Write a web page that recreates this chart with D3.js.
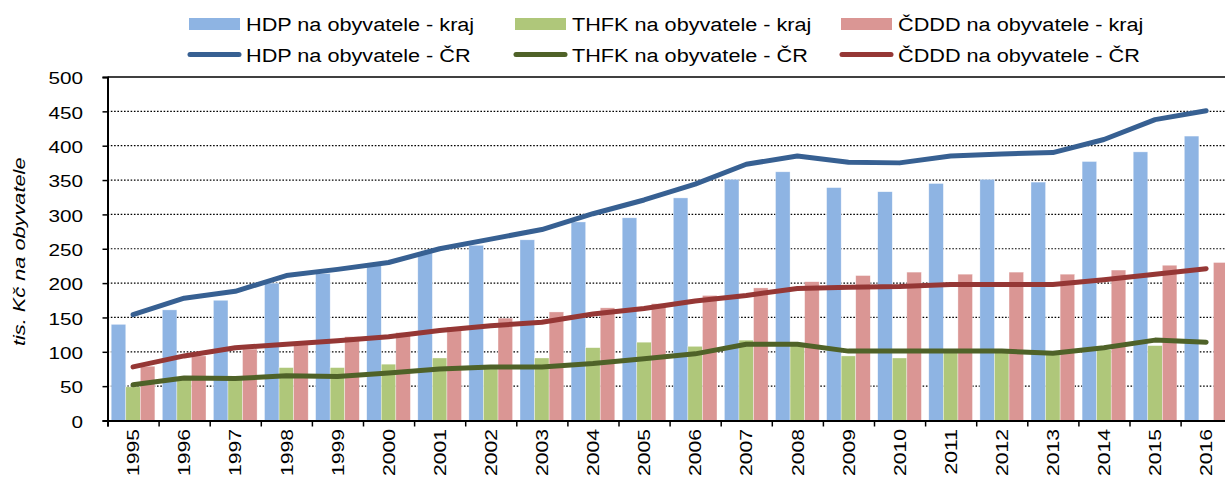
<!DOCTYPE html>
<html><head><meta charset="utf-8">
<script src="https://cdn.jsdelivr.net/npm/d3@7"></script>
<style>
body{margin:0;background:#fff;}
svg{display:block;font-family:Arial,"Liberation Sans",sans-serif;}
</style></head><body>
<svg id="c" width="1225" height="482"></svg>
<script>
const years = ["1995","1996","1997","1998","1999","2000","2001","2002","2003","2004","2005","2006","2007","2008","2009","2010","2011","2012","2013","2014","2015","2016"];
const hdpKraj = [140,161,175,200,214,227,244,255,263,289,295,324,351,362,339,333,345,351,347,377,391,414];
const thfkKraj = [49,62,60,77,77,82,91,78,91,106,114,108,117,110,94,91,100,101,97,103,109,null];
const cdddKraj = [79,94,104,110,122,128,136,149,158,164,170,182,193,202,211,216,213,216,213,219,226,230];
const hdpCR = [154,178,188,211,220,230,250,264,278,301,321,344,373,385,376,375,385,388,390,409,438,451];
const thfkCR = [52,62,61,65,64,69,75,78,78,83,90,97,111,111,101,101,101,101,98,106,117,114];
const cdddCR = [78,94,106,111,116,122,131,138,143,155,163,174,182,192,194,195,198,198,198,205,213,221];
const yTicks = [0,50,100,150,200,250,300,350,400,450,500];
const legendLabels = ["HDP na obyvatele - kraj","THFK na obyvatele - kraj","ČDDD na obyvatele - kraj","HDP na obyvatele - ČR","THFK na obyvatele - ČR","ČDDD na obyvatele - ČR"];
const yTitle = "tis. Kč na obyvatele";

const barColors = ["#8EB4E3","#AFC77A","#DA9694"];
const lineColors = ["#376092","#4F6228","#953735"];

const svg = d3.select("#c");
const plotLeft = 107.5, bandW = 51.1, plotTop = 77, plotBottom = 420.5;
const plotRight = plotLeft + bandW*years.length;
const x = d3.scaleBand().domain(years).range([plotLeft, plotRight]).paddingInner(0).paddingOuter(0);
const xb = d3.scaleLinear().domain([0, years.length]).range([plotLeft, plotRight]);
const y = d3.scaleLinear().domain([0,500]).range([plotBottom, plotTop]);

// gridlines
svg.append("g").selectAll("line").data(yTicks.filter(d=>d>0)).join("line")
  .attr("x1", plotLeft).attr("x2", 1225)
  .attr("y1", d=>y(d)).attr("y2", d=>y(d))
  .attr("stroke", "#000").attr("stroke-width", d=>d===500?1.5:1.2)
  .attr("stroke-dasharray", d=>d===500?null:"1.6,1.7");

// bars
const bw = bandW*0.285;
const off = (bandW - 3*bw)/2;
const series = [hdpKraj, thfkKraj, cdddKraj];
series.forEach((s,i)=>{
  svg.append("g").selectAll("rect").data(years.map((yr,j)=>({yr, v:s[j]})).filter(d=>d.v!=null)).join("rect")
    .attr("x", d=>x(d.yr)+off+i*bw)
    .attr("width", bw)
    .attr("y", d=>y(d.v))
    .attr("height", d=>y(0)-y(d.v))
    .attr("fill", barColors[i])
    .attr("stroke", "#fff").attr("stroke-opacity",0.6).attr("stroke-width",0.6);
});

// lines
const lineGen = d3.line().x(d=>x(d.yr)+x.bandwidth()/2).y(d=>y(d.v));
[hdpCR, thfkCR, cdddCR].forEach((s,i)=>{
  svg.append("path").datum(years.map((yr,j)=>({yr, v:s[j]})))
    .attr("d", lineGen).attr("fill","none")
    .attr("stroke", lineColors[i]).attr("stroke-width", 5)
    .attr("stroke-linecap","round").attr("stroke-linejoin","round");
});

// y axis
const yAxis = svg.append("g").attr("transform", `translate(${plotLeft},0)`)
  .call(d3.axisLeft(y).tickValues(yTicks).tickSize(5).tickPadding(0).tickFormat(d3.format("d")));
yAxis.select(".domain").attr("stroke","#000").attr("stroke-width",2);
yAxis.selectAll(".tick line").attr("stroke","#000").attr("stroke-width",1.5);
yAxis.selectAll(".tick text")
  .attr("x", null).attr("dy", null)
  .attr("font-size", 17).attr("fill","#000")
  .attr("text-anchor","end").attr("dominant-baseline","central")
  .attr("transform", `translate(${83-plotLeft},1) scale(1.22,1)`);

// x axis (ticks at category boundaries)
const xAxis = svg.append("g").attr("transform", `translate(0,${plotBottom})`)
  .call(d3.axisBottom(xb).tickValues(d3.range(0, years.length+1)).tickSize(6).tickFormat(""));
xAxis.select(".domain").attr("stroke","#000").attr("stroke-width",2);
xAxis.selectAll(".tick line").attr("stroke","#000").attr("stroke-width",1.5);

// year labels
svg.append("g").selectAll("text").data(years).join("text")
  .attr("transform", d=>`translate(${x(d)+x.bandwidth()/2+0.5},429) rotate(-90) scale(1.28,1)`)
  .attr("text-anchor","end").attr("dominant-baseline","central")
  .attr("font-size",16.5).attr("fill","#000")
  .text(d=>d);

// y title
svg.append("text")
  .attr("transform", `translate(20,${(plotTop+plotBottom)/2+3}) rotate(-90) scale(1.36,1)`)
  .attr("text-anchor","middle").attr("dominant-baseline","central")
  .attr("font-size",16).attr("font-style","italic").attr("fill","#000")
  .text(yTitle);

// legend
const legX = [189, 515, 841];
const leg = svg.append("g");
legendLabels.forEach((lab,k)=>{
  const col = k%3, row = Math.floor(k/3);
  const lx = legX[col];
  const cy = row===0 ? 24 : 54.5;
  if(row===0){
    leg.append("rect").attr("x",lx).attr("y",cy-6).attr("width",51).attr("height",12).attr("fill",barColors[col]);
  } else {
    leg.append("line").attr("x1",lx+1).attr("x2",lx+50).attr("y1",cy).attr("y2",cy)
      .attr("stroke",lineColors[col]).attr("stroke-width",5).attr("stroke-linecap","round");
  }
  leg.append("text")
    .attr("transform", `translate(${lx+57},${cy+7}) scale(1.14,1)`)
    .attr("font-size",19).attr("fill","#000")
    .text(lab);
});
</script>
</body></html>
